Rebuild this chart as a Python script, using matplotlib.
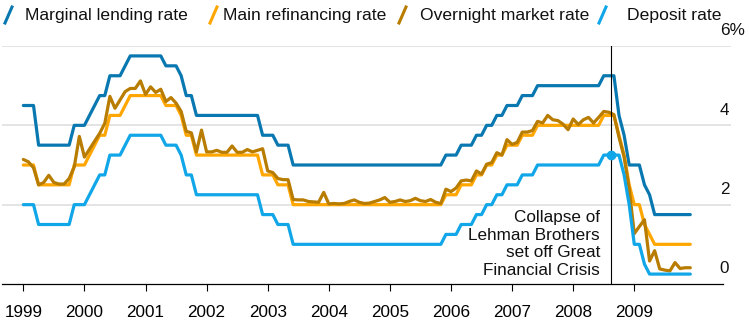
import numpy as np
import matplotlib
matplotlib.use("Agg")
import matplotlib.pyplot as plt
from matplotlib.lines import Line2D

# ECB rates, end of month, Jan 1999 .. Dec 2009 (percent)
marginal_lending = [
    4.50, 4.50, 4.50, 3.50, 3.50, 3.50, 3.50, 3.50, 3.50, 3.50, 4.00, 4.00,  # 1999
    4.00, 4.25, 4.50, 4.75, 4.75, 5.25, 5.25, 5.25, 5.50, 5.75, 5.75, 5.75,  # 2000
    5.75, 5.75, 5.75, 5.75, 5.50, 5.50, 5.50, 5.25, 4.75, 4.75, 4.25, 4.25,  # 2001
    4.25, 4.25, 4.25, 4.25, 4.25, 4.25, 4.25, 4.25, 4.25, 4.25, 4.25, 3.75,  # 2002
    3.75, 3.75, 3.50, 3.50, 3.50, 3.00, 3.00, 3.00, 3.00, 3.00, 3.00, 3.00,  # 2003
    3.00, 3.00, 3.00, 3.00, 3.00, 3.00, 3.00, 3.00, 3.00, 3.00, 3.00, 3.00,  # 2004
    3.00, 3.00, 3.00, 3.00, 3.00, 3.00, 3.00, 3.00, 3.00, 3.00, 3.00, 3.25,  # 2005
    3.25, 3.25, 3.50, 3.50, 3.50, 3.75, 3.75, 4.00, 4.00, 4.25, 4.25, 4.50,  # 2006
    4.50, 4.50, 4.75, 4.75, 4.75, 5.00, 5.00, 5.00, 5.00, 5.00, 5.00, 5.00,  # 2007
    5.00, 5.00, 5.00, 5.00, 5.00, 5.00, 5.25, 5.25, 5.25, 4.25, 3.75, 3.00,  # 2008
    3.00, 3.00, 2.50, 2.25, 1.75, 1.75, 1.75, 1.75, 1.75, 1.75, 1.75, 1.75,  # 2009
]
main_refi = [
    3.00, 3.00, 3.00, 2.50, 2.50, 2.50, 2.50, 2.50, 2.50, 2.50, 3.00, 3.00,
    3.00, 3.25, 3.50, 3.75, 3.75, 4.25, 4.25, 4.25, 4.50, 4.75, 4.75, 4.75,
    4.75, 4.75, 4.75, 4.75, 4.50, 4.50, 4.50, 4.25, 3.75, 3.75, 3.25, 3.25,
    3.25, 3.25, 3.25, 3.25, 3.25, 3.25, 3.25, 3.25, 3.25, 3.25, 3.25, 2.75,
    2.75, 2.75, 2.50, 2.50, 2.50, 2.00, 2.00, 2.00, 2.00, 2.00, 2.00, 2.00,
    2.00, 2.00, 2.00, 2.00, 2.00, 2.00, 2.00, 2.00, 2.00, 2.00, 2.00, 2.00,
    2.00, 2.00, 2.00, 2.00, 2.00, 2.00, 2.00, 2.00, 2.00, 2.00, 2.00, 2.25,
    2.25, 2.25, 2.50, 2.50, 2.50, 2.75, 2.75, 3.00, 3.00, 3.25, 3.25, 3.50,
    3.50, 3.50, 3.75, 3.75, 3.75, 4.00, 4.00, 4.00, 4.00, 4.00, 4.00, 4.00,
    4.00, 4.00, 4.00, 4.00, 4.00, 4.00, 4.25, 4.25, 4.25, 3.75, 3.25, 2.50,
    2.00, 2.00, 1.50, 1.25, 1.00, 1.00, 1.00, 1.00, 1.00, 1.00, 1.00, 1.00,
]
overnight = [
    3.14, 3.08, 2.93, 2.50, 2.56, 2.74, 2.56, 2.52, 2.52, 2.66, 2.95, 3.72,
    3.20, 3.40, 3.60, 3.80, 4.05, 4.73, 4.43, 4.64, 4.85, 4.93, 4.93, 5.12,
    4.78, 4.97, 4.83, 4.91, 4.60, 4.70, 4.56, 4.35, 3.85, 3.81, 3.33, 3.88,
    3.33, 3.33, 3.37, 3.32, 3.32, 3.48, 3.32, 3.32, 3.39, 3.33, 3.37, 3.41,
    2.85, 2.81, 2.66, 2.63, 2.63, 2.13, 2.12, 2.12, 2.08, 2.07, 2.06, 2.31,
    2.02, 2.03, 2.02, 2.03, 2.08, 2.12, 2.06, 2.03, 2.04, 2.08, 2.12, 2.18,
    2.06, 2.08, 2.12, 2.08, 2.10, 2.16, 2.10, 2.08, 2.13, 2.06, 2.03, 2.39,
    2.33, 2.42, 2.60, 2.62, 2.60, 2.85, 2.77, 3.02, 3.06, 3.31, 3.25, 3.64,
    3.52, 3.57, 3.83, 3.83, 3.87, 4.10, 4.06, 4.25, 4.14, 4.12, 4.03, 3.89,
    4.16, 4.02, 4.14, 4.20, 4.06, 4.20, 4.35, 4.33, 4.27, 3.70, 3.20, 2.40,
    1.27, 1.45, 1.62, 0.58, 0.84, 0.38, 0.35, 0.33, 0.54, 0.39, 0.41, 0.41,
]
deposit = [
    2.00, 2.00, 2.00, 1.50, 1.50, 1.50, 1.50, 1.50, 1.50, 1.50, 2.00, 2.00,
    2.00, 2.25, 2.50, 2.75, 2.75, 3.25, 3.25, 3.25, 3.50, 3.75, 3.75, 3.75,
    3.75, 3.75, 3.75, 3.75, 3.50, 3.50, 3.50, 3.25, 2.75, 2.75, 2.25, 2.25,
    2.25, 2.25, 2.25, 2.25, 2.25, 2.25, 2.25, 2.25, 2.25, 2.25, 2.25, 1.75,
    1.75, 1.75, 1.50, 1.50, 1.50, 1.00, 1.00, 1.00, 1.00, 1.00, 1.00, 1.00,
    1.00, 1.00, 1.00, 1.00, 1.00, 1.00, 1.00, 1.00, 1.00, 1.00, 1.00, 1.00,
    1.00, 1.00, 1.00, 1.00, 1.00, 1.00, 1.00, 1.00, 1.00, 1.00, 1.00, 1.25,
    1.25, 1.25, 1.50, 1.50, 1.50, 1.75, 1.75, 2.00, 2.00, 2.25, 2.25, 2.50,
    2.50, 2.50, 2.75, 2.75, 2.75, 3.00, 3.00, 3.00, 3.00, 3.00, 3.00, 3.00,
    3.00, 3.00, 3.00, 3.00, 3.00, 3.00, 3.25, 3.25, 3.25, 3.25, 2.75, 2.00,
    1.00, 1.00, 0.50, 0.25, 0.25, 0.25, 0.25, 0.25, 0.25, 0.25, 0.25, 0.25,
]

series_names = ["Marginal lending rate", "Main refinancing rate",
                "Overnight market rate", "Deposit rate"]
colors = ["#0a78b0", "#ffa600", "#b87c00", "#10a6e8"]
years = list(range(1999, 2010))
y_labels = ["0", "2", "4", "6%"]
y_values = [0, 2, 4, 6]
lehman_x = 2008.62
note = "Collapse of\nLehman Brothers\nset off Great\nFinancial Crisis"

plt.rcParams['font.family'] = ['Liberation Sans', 'DejaVu Sans']

fig = plt.figure(figsize=(7.49, 3.35), dpi=100)
ax = fig.add_axes([2 / 749, 51 / 335, 729 / 749, 238 / 335])

x = 1999 + np.arange(len(marginal_lending)) / 12

for g in y_values[1:]:
    ax.axhline(g, color="#dcdcdc", lw=1.1, zorder=0)

for vals, c in zip([marginal_lending, main_refi, overnight, deposit], colors):
    ax.plot(x, vals, color=c, lw=2.3, solid_joinstyle="round",
            solid_capstyle="round", zorder=2)

# Lehman marker
ax.axvline(lehman_x, color="black", lw=0.8, zorder=3)
ax.plot([lehman_x], [np.interp(lehman_x, x, deposit)], "o", color=colors[3],
        ms=6, zorder=4)
ax.text(2008.44, 0.225, note, ha="right", va="baseline", multialignment="right",
        fontsize=12.3, linespacing=1.22, color="#111111")

ax.set_xlim(1998.651, 2010.583)
ax.set_ylim(0, 6)
for s in ["left", "right", "top"]:
    ax.spines[s].set_visible(False)
ax.spines["bottom"].set_color("black")
ax.spines["bottom"].set_linewidth(0.9)
ax.spines["bottom"].set_bounds(1998.651, 2010.452)
ax.set_yticks([])
ax.set_xticks(years)
ax.set_xticklabels([str(y) for y in years])
ax.tick_params(axis="x", direction="out", length=5, width=0.8, pad=10,
               labelsize=12.3, colors="black")

for v, lab in zip(y_values, y_labels):
    ax.text(2010.40, v + 0.27, lab, ha="left", va="baseline", fontsize=12.3,
            color="#111111")

# legend across the top
legend_x = [25, 223, 420, 627]
slash_x = [5, 210, 399, 599]
for name, c, tx, sx in zip(series_names, colors, legend_x, slash_x):
    fig.add_artist(Line2D([sx / 749, (sx + 7) / 749],
                          [1 - 23 / 335, 1 - 7 / 335],
                          color=c, lw=2.2, transform=fig.transFigure))
    fig.text(tx / 749, 1 - 20 / 335, name, fontsize=12.6, va="baseline",
             color="#111111")

fig.savefig("out.png", dpi=100)
